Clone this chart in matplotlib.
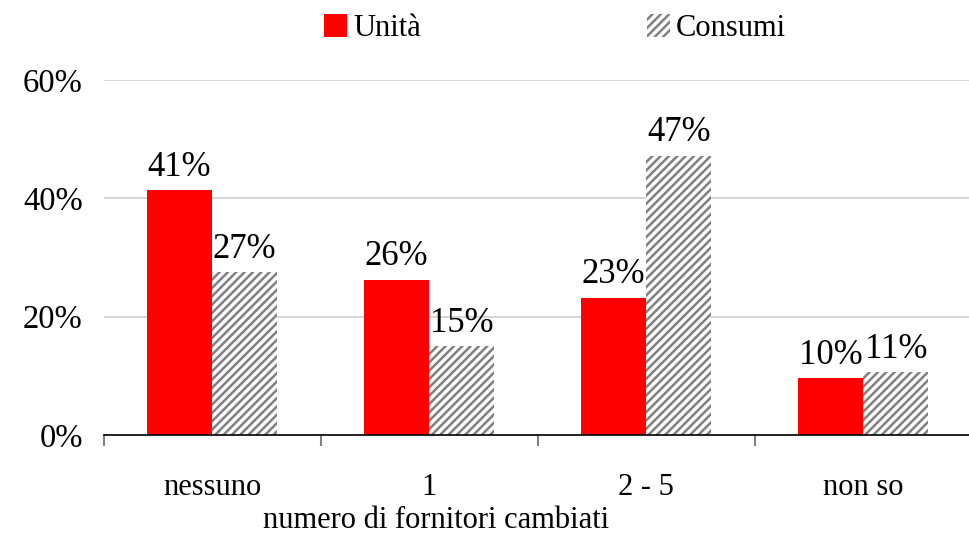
import matplotlib.pyplot as plt
import numpy as np

categories = ['nessuno', '1', '2 - 5', 'non so']
unita = [41.4, 26.2, 23.2, 9.6]
consumi = [27.5, 15.0, 47.2, 10.6]
unita_labels = ['41%', '26%', '23%', '10%']
consumi_labels = ['27%', '15%', '47%', '11%']

plt.rcParams['font.family'] = ['Liberation Serif', 'DejaVu Serif']
plt.rcParams['hatch.color'] = '#808080'
plt.rcParams['hatch.linewidth'] = 1.8

fig = plt.figure(figsize=(9.69, 5.36), dpi=100)
ax = fig.add_axes([0.107, 0.1884, 0.896, 0.6623])

x = np.arange(len(categories))
w = 0.3
b1 = ax.bar(x - w / 2, unita, w, color='#ff0000', edgecolor='none', label='Unità', zorder=2)
b2 = ax.bar(x + w / 2, consumi, w, color='white', edgecolor='#808080', linewidth=0,
            hatch='////', label='Consumi', zorder=2)

# value labels
for xi, v, t in zip(x - w / 2, unita, unita_labels):
    ax.text(xi, v + 1.1, t, ha='center', va='bottom', fontsize=25)
for xi, v, t in zip(x + w / 2, consumi, consumi_labels):
    ax.text(xi, v + 1.1, t, ha='center', va='bottom', fontsize=25)

ax.set_xlim(-0.5, len(categories) - 0.5)
ax.set_ylim(0, 60)
ax.set_yticks([0, 20, 40, 60])
ax.set_yticklabels(['0%', '20%', '40%', '60%'], fontsize=23.5)
ax.yaxis.grid(True, color='#d0d0d0', linewidth=1.2, zorder=0)
ax.tick_params(axis='y', length=0, pad=15)

ax.set_xticks(x)
ax.set_xticklabels(categories, fontsize=22)
ax.set_xticks(np.arange(-0.5, len(categories)), minor=True)
ax.tick_params(axis='x', which='major', length=0, pad=27)
ax.tick_params(axis='x', which='minor', length=8, width=1.5, color='#808080')

for s in ['left', 'right', 'top']:
    ax.spines[s].set_visible(False)
ax.spines['bottom'].set_color('black')
ax.spines['bottom'].set_linewidth(1.2)
ax.spines['bottom'].set_zorder(3)

ax.set_xlabel('numero di fornitori cambiati', fontsize=22)
ax.xaxis.set_label_coords(0.383, -0.2)

leg = fig.legend(handles=[b1, b2], loc='upper center', bbox_to_anchor=(0.573, 1.025), ncol=2,
                 frameon=False, fontsize=22, handlelength=0.75, handleheight=0.75,
                 handletextpad=0.2, columnspacing=7.4)

fig.savefig('out.png', dpi=100)
